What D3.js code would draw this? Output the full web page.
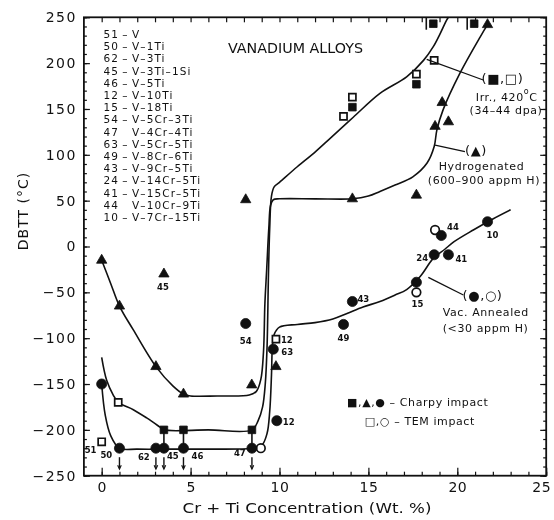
<!DOCTYPE html>
<html>
<head>
<meta charset="utf-8">
<script src="https://cdn.jsdelivr.net/npm/d3@7"></script>
<style>
  body { margin: 0; background: #fff; }
  svg { display: block; will-change: transform; }
  text { font-family: "DejaVu Sans", sans-serif; fill: #111; }
</style>
</head>
<body>
<svg id="chart" width="554" height="520"></svg>
<script>
// ---- Alloy key: specimen number and composition ----
const alloyIds   = ["51", "50", "62", "45", "46", "12", "15", "54", "47", "63", "49", "43", "24", "41", "44", "10"];
const alloyNames = ["V", "V–1Ti", "V–3Ti", "V–3Ti–1Si", "V–5Ti", "V–10Ti", "V–18Ti", "V–5Cr–3Ti",
                    "V–4Cr–4Ti", "V–5Cr–5Ti", "V–8Cr–6Ti", "V–9Cr–5Ti", "V–14Cr–5Ti", "V–15Cr–5Ti",
                    "V–10Cr–9Ti", "V–7Cr–15Ti"];
const alloyDash  = [true, true, true, true, true, true, true, true, false, true, true, true, true, true, false, true];

// ---- DBTT data, [Cr+Ti wt.%, DBTT °C] ----
// Vacuum annealed (<30 appm H)
const vacCharpy = [[0, -150], [1, -220], [3.05, -220], [3.5, -220], [4.6, -220], [8.45, -220],
                   [8.1, -84], [9.65, -112], [9.85, -190], [13.6, -85], [14.1, -60], [17.7, -39],
                   [18.7, -9], [19.5, -9], [19.1, 12], [21.7, 27]];
const vacTEM    = [[8.95, -220], [17.7, -50], [18.75, 18]];
// Hydrogenated (600–900 appm H)
const hydCharpy = [[0, -15], [1, -65], [3.05, -131], [3.5, -30], [4.6, -161], [8.44, -151],
                   [8.1, 51], [9.8, -131], [14.1, 52], [17.7, 56], [18.75, 131], [19.15, 157],
                   [19.5, 136], [21.7, 242]];
// Irradiated at 420 °C (34–44 dpa)
const irrCharpy = [[3.5, -200], [4.6, -200], [8.45, -200], [14.1, 152], [17.7, 177],
                   [18.65, 243], [20.95, 243]];
const irrTEM    = [[0, -213], [0.93, -170], [9.8, -101], [13.6, 142], [14.1, 163], [17.7, 188], [18.7, 203]];

// Hand-drawn trend curves
const vacCurve = [[0, -150], [0.2, -184], [0.5, -206], [1, -220], [2, -221], [4, -221], [6, -221],
                  [8.45, -220], [9.0, -217], [9.3, -204], [9.45, -180], [9.55, -140], [9.6, -110],
                  [9.7, -96], [10, -88], [11, -85], [12, -83], [13, -79], [13.8, -73], [14.7, -66],
                  [15.65, -60], [16.5, -53], [17.15, -47], [17.9, -33], [18.65, -13], [19.3, -3],
                  [19.8, 5], [20.9, 18], [22, 30], [23, 40]];
const hydCurve = [[0, -15], [0.5, -40], [1, -65], [1.78, -91], [3.05, -131], [4, -152], [4.6, -161],
                  [5, -163], [6.5, -163], [8.3, -162], [8.7, -158], [8.95, -145], [9.1, -115],
                  [9.18, -62], [9.28, -25], [9.4, 20], [9.5, 45], [9.65, 51], [10, 52], [12, 52],
                  [14.1, 52], [15, 55], [15.65, 60], [16.5, 67], [17.5, 76], [18.3, 91], [18.7, 109],
                  [18.85, 127], [19.2, 149], [20.15, 189], [21.3, 229], [21.7, 242]];
const irrCurve = [[0, -121], [0.28, -146], [0.65, -162], [0.93, -170], [1.78, -178], [2.53, -187],
                  [3.28, -197], [3.5, -200], [6, -200], [8.45, -200], [8.8, -190], [9.05, -175],
                  [9.2, -150], [9.3, -110], [9.38, -30], [9.45, 20], [9.55, 55], [9.7, 65], [10, 70],
                  [11, 87], [12, 103], [12.85, 118], [14.15, 141], [15.65, 167], [17.15, 185],
                  [18.1, 203], [18.65, 218], [19.03, 232], [19.4, 247], [19.5, 250]];

// Upper / lower bound indicators
const belowMarks = [[1, -220], [3.05, -220], [3.5, -220], [4.6, -220], [8.45, -220]];
const aboveMarks = [[18.65, 243], [20.95, 243]];
const boundLinks = [[3.5, -200, -220], [4.6, -200, -220], [8.45, -200, -220]];

// Specimen labels beside data points: [text, x, y of point]
const pointLabels = [["45", 3.5, -30], ["54", 8.1, -84], ["51", 0, -213], ["50", 1, -220],
                     ["62", 3.05, -220], ["45", 3.5, -220], ["46", 4.6, -220], ["47", 8.45, -220],
                     ["12", 9.8, -101], ["63", 9.65, -112], ["12", 9.85, -190], ["49", 13.6, -85],
                     ["43", 14.1, -60], ["15", 17.7, -50], ["24", 18.7, -9], ["41", 19.5, -9],
                     ["44", 18.75, 18], ["10", 21.7, 27]];

// Axis ticks
const xMajor = [0, 5, 10, 15, 20, 25];
const yMajor = [-250, -200, -150, -100, -50, 0, 50, 100, 150, 200, 250];

// ---- Layout ----
const svg = d3.select("#chart");
const x = d3.scaleLinear().domain([-1, 25]).range([83.9, 546.2]);
const y = d3.scaleLinear().domain([-250, 250]).range([475.7, 17.3]);
const ink = "#111";

// label offsets (px) matching pointLabels order: [dx, dy, anchor]
const labelOffsets = [[-1, 16, "middle"], [0, 20, "middle"], [-17, 11, "start"], [-19, 10, "start"],
                      [-18, 12, "start"], [3, 11, "start"], [8, 11, "start"], [-18, 8, "start"],
                      [5, 4, "start"], [8, 6, "start"], [6, 4, "start"], [0, 17, "middle"],
                      [5, 0, "start"], [1, 15, "middle"], [-6, 6, "end"], [7, 7, "start"],
                      [12, 0, "start"], [5, 16, "middle"]];

// ---- Axes (ticks point inward) ----
const fmtY = d => d < 0 ? "\u2212" + Math.abs(d) : String(d);
function addAxis(axis, tx, ty, spacing) {
  const g = svg.append("g").attr("transform", `translate(${tx},${ty})`).call(axis);
  g.select(".domain").remove();
  g.selectAll("line").attr("stroke", ink).attr("stroke-width", 1.2);
  g.selectAll("text").attr("fill", ink).style("font-family", "'DejaVu Sans', sans-serif")
    .style("font-size", "14px").style("letter-spacing", spacing || "1.5px");
  return g;
}
addAxis(d3.axisLeft(y).tickValues(d3.range(-250, 251, 10)).tickSize(-3).tickFormat(""), x(-1), 0);
addAxis(d3.axisLeft(y).tickValues(yMajor).tickSize(-6).tickPadding(7).tickFormat(fmtY), x(-1), 0);
addAxis(d3.axisRight(y).tickValues(d3.range(-250, 251, 10)).tickSize(-3).tickFormat(""), x(25), 0);
addAxis(d3.axisRight(y).tickValues(yMajor).tickSize(-6).tickFormat(""), x(25), 0);
addAxis(d3.axisTop(x).tickValues(d3.range(0, 25, 1)).tickSize(-5).tickFormat(""), 0, y(250));
addAxis(d3.axisBottom(x).tickValues(d3.range(0, 26, 1)).tickSize(-4).tickFormat(""), 0, y(-250));
const xLab = addAxis(d3.axisBottom(x).tickValues(xMajor).tickSize(-8).tickPadding(6).tickFormat(d => String(d)),
        0, y(-250), "0.5px");
// keep the last tick label inside the page edge
xLab.selectAll(".tick text").filter(d => d === 25).attr("dx", "-5");

svg.append("rect")
  .attr("x", x(-1)).attr("y", y(250))
  .attr("width", x(25) - x(-1)).attr("height", y(-250) - y(250))
  .attr("fill", "none").attr("stroke", ink).attr("stroke-width", 1.8);

svg.append("text")
  .attr("transform", `translate(28,211) rotate(-90)`)
  .attr("text-anchor", "middle").style("font-size", "14px").style("letter-spacing", "1px")
  .text("DBTT (°C)");
svg.append("text")
  .attr("x", 307).attr("y", 513).attr("text-anchor", "middle")
  .style("font-size", "14px").attr("textLength", 249).attr("lengthAdjust", "spacingAndGlyphs")
  .text("Cr + Ti Concentration (Wt. %)");

// ---- Trend curves ----
const line = d3.line().x(d => x(d[0])).y(d => y(d[1])).curve(d3.curveCatmullRom.alpha(0.5));
const plot = svg.append("g");
[vacCurve, hydCurve, irrCurve].forEach(c => {
  plot.append("path").attr("d", line(c)).attr("fill", "none")
    .attr("stroke", ink).attr("stroke-width", 1.6).attr("stroke-linejoin", "round");
});

// bound indicators
boundLinks.forEach(d => {
  plot.append("line").attr("x1", x(d[0])).attr("x2", x(d[0]))
    .attr("y1", y(d[1])).attr("y2", y(d[2])).attr("stroke", ink).attr("stroke-width", 1.6);
});
belowMarks.forEach(d => {
  const cx = x(d[0]), cy = y(d[1]);
  plot.append("line").attr("x1", cx).attr("x2", cx).attr("y1", cy + 9).attr("y2", cy + 20)
    .attr("stroke", ink).attr("stroke-width", 1.4);
  plot.append("path").attr("d", `M${cx - 1.8},${cy + 17}L${cx},${cy + 21}L${cx + 1.8},${cy + 17}`)
    .attr("fill", "none").attr("stroke", ink).attr("stroke-width", 1.1);
});
aboveMarks.forEach(d => {
  const cx = x(d[0]) - 7, cy = y(d[1]);
  plot.append("line").attr("x1", cx).attr("x2", cx).attr("y1", cy - 6).attr("y2", cy + 6)
    .attr("stroke", ink).attr("stroke-width", 1.6);
});

// ---- Markers ----
function drawMarkers(data, type, size, filled) {
  const sym = d3.symbol().type(type).size(size);
  plot.selectAll(null).data(data).join("path")
    .attr("transform", d => `translate(${x(d[0])},${y(d[1])})`)
    .attr("d", sym)
    .attr("fill", filled ? ink : "#fff")
    .attr("stroke", ink).attr("stroke-width", filled ? 0.8 : 1.7);
}
drawMarkers(irrTEM, d3.symbolSquare, 50, false);
drawMarkers(vacTEM, d3.symbolCircle, 58, false);
drawMarkers(irrCharpy, d3.symbolSquare, 58, true);
drawMarkers(hydCharpy, d3.symbolTriangle, 46, true);
drawMarkers(vacCharpy, d3.symbolCircle, 80, true);

// specimen numbers
pointLabels.forEach((d, i) => {
  const o = labelOffsets[i];
  plot.append("text").attr("x", x(d[1]) + o[0]).attr("y", y(d[2]) + o[1])
    .attr("text-anchor", o[2]).style("font-size", "8.5px").style("font-weight", "bold")
    .text(d[0]);
});

// ---- Alloy key ----
const key = svg.append("g").style("font-size", "10.5px").style("letter-spacing", "1.1px");
alloyIds.forEach((id, i) => {
  const by = 38 + i * 12.2;
  key.append("text").attr("x", 119).attr("y", by).attr("text-anchor", "end").text(id);
  if (alloyDash[i]) key.append("text").attr("x", 125.5).attr("y", by).attr("text-anchor", "middle").text("–");
  key.append("text").attr("x", 132).attr("y", by).text(alloyNames[i]);
});

svg.append("text").attr("x", x(10.9)).attr("y", y(211)).attr("text-anchor", "middle")
  .style("font-size", "14px").attr("textLength", 135).attr("lengthAdjust", "spacingAndGlyphs")
  .text("VANADIUM ALLOYS");

// ---- Condition annotations ----
const note = svg.append("g").style("font-size", "11px").style("letter-spacing", "0.6px");
function annot(tx, ty, str) {
  return note.append("text").attr("x", x(tx)).attr("y", y(ty)).attr("text-anchor", "middle").text(str);
}
function pointer(a, b) {
  note.append("line").attr("x1", x(a[0])).attr("y1", y(a[1])).attr("x2", x(b[0])).attr("y2", y(b[1]))
    .attr("stroke", ink).attr("stroke-width", 1.3);
}
annot(22.54, 178.3, "(■,□)").style("font-size", "13px");
const irrT = note.append("text").attr("x", x(22.78)).attr("y", y(158.7)).attr("text-anchor", "middle");
irrT.append("tspan").text("Irr., 420");
irrT.append("tspan").attr("dy", -7).style("font-size", "8px").text("o");
irrT.append("tspan").attr("dy", 7).text("C");
annot(22.74, 144.5, "(34–44 dpa)");
pointer([18.28, 204], [21.46, 181.6]);

annot(21.05, 99.8, "(▲)").style("font-size", "13px");
annot(21.36, 83.4, "Hydrogenated");
annot(21.5, 68.2, "(600–900 appm H)");
pointer([18.75, 110.7], [20.43, 103.4]);

annot(21.42, -58.4, "(●,○)").style("font-size", "13px");
annot(21.6, -75.8, "Vac. Annealed");
annot(21.59, -93.3, "(<30 appm H)");
pointer([18.37, -33.6], [20.34, -52.9]);

// symbol legend
const leg = svg.append("g").style("font-size", "11px").style("letter-spacing", "0.6px");
leg.append("text").attr("x", x(13.8)).attr("y", y(-174)).text("■,▲,●  –  Charpy impact");
leg.append("text").attr("x", x(14.8)).attr("y", y(-195)).text("□,○  –  TEM impact");
</script>
</body>
</html>
